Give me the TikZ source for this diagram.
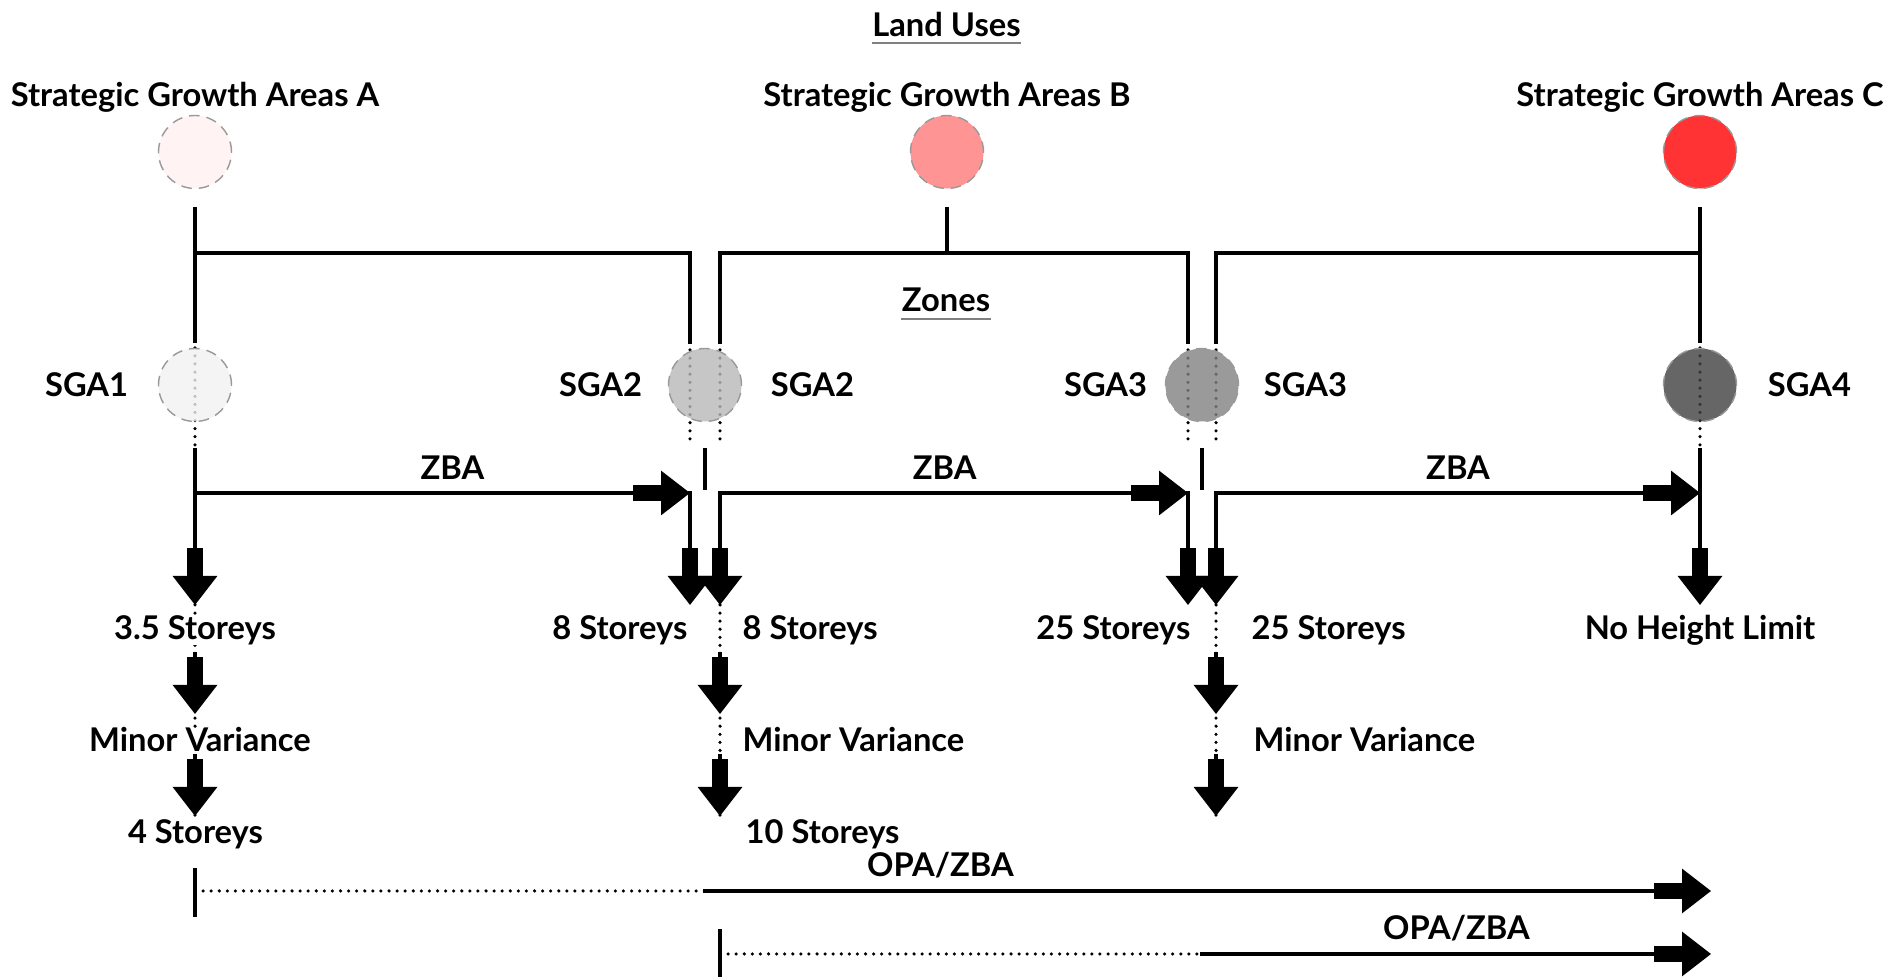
\documentclass[tikz,border=0pt]{standalone}
\usepackage{fontspec}
\setmainfont{Lato}
\usepackage{tikz}
\usetikzlibrary{arrows.meta,positioning,backgrounds}

\definecolor{areaA}{HTML}{FFF3F3}
\definecolor{areaB}{HTML}{FF9494}
\definecolor{areaC}{HTML}{FF3333}
\definecolor{zoneA}{HTML}{F1F1F1}
\definecolor{zoneB}{HTML}{B8B8B8}
\definecolor{zoneC}{HTML}{818181}
\definecolor{zoneD}{HTML}{404040}

\begin{document}
\begin{tikzpicture}[
  lbl/.style={font=\bfseries\fontsize{9.3}{11}\selectfont, inner sep=0pt},
  area/.style={circle, minimum size=7.3mm, inner sep=0pt, draw=gray!80, densely dashed, line width=0.4pt},
  zone/.style={area, fill opacity=0.8},
  ln/.style={line width=0.95pt, line cap=rect},
  dotln/.style={line width=1pt, line cap=round, dash pattern=on 0pt off 2.3pt},
  blk/.style={ln, -{Rectangle[length=2.8mm,width=1.6mm,sep=0pt]Triangle[length=2.9mm,width=4.4mm,sep=0pt]}},
  uline/.style={gray, line width=0.6pt}
]
\useasboundingbox (0,0) rectangle (18.9,-9.77);

% land uses
\node[lbl, anchor=base] (land) at (9.465,-0.37) {Land Uses};
\draw[uline] ([yshift=-0.5mm]land.south west) -- ([yshift=-0.5mm]land.south east);

\node[area, fill=areaA] (areaA) at (1.95,-1.52) {};
\node[area, fill=areaB] (areaB) at (9.47,-1.52) {};
\node[area, fill=areaC] (areaC) at (17.00,-1.52) {};
\node[lbl, above=0.2mm of areaA] (titleA) {Strategic Growth Areas A};
\node[lbl, above=0.2mm of areaB] (titleB) {Strategic Growth Areas B};
\node[lbl, above=0.2mm of areaC] (titleC) {Strategic Growth Areas C};

% zones
\node[lbl, anchor=base] (zones) at (9.46,-3.12) {Zones};
\draw[uline] ([yshift=-0.6mm]zones.south west) -- ([yshift=-0.6mm]zones.south east);

\node[zone, fill=zoneA] (sga1) at (1.95,-3.85) {};
\node[zone, fill=zoneB] (sga2) at (7.05,-3.85) {};
\node[zone, fill=zoneC] (sga3) at (12.02,-3.85) {};
\node[zone, fill=zoneD] (sga4) at (17.00,-3.85) {};
\node[lbl, left=2.9mm of sga1] (lab1) {SGA1};
\node[lbl, left=2.5mm of sga2] (lab2l) {SGA2};
\node[lbl, right=2.8mm of sga2] (lab2r) {SGA2};
\node[lbl, left=1.7mm of sga3] (lab3l) {SGA3};
\node[lbl, right=2.4mm of sga3] (lab3r) {SGA3};
\node[lbl, right=3.0mm of sga4] (lab4) {SGA4};

\coordinate (top2l) at (6.90,-3.42);
\coordinate (top2r) at (7.20,-3.42);
\coordinate (top3l) at (11.88,-3.42);
\coordinate (top3r) at (12.16,-3.42);
\coordinate (lvBranch) at (0,-2.53);
\coordinate (lvDot) at (0,-4.47);
\coordinate (lvSolid) at (0,-4.50);
\coordinate (lvMid) at (0,-4.88);
\coordinate (lvZba) at (0,-4.93);
\coordinate (lvTipA) at (0,-6.05);
\coordinate (lvTopB) at (0,-6.54);
\coordinate (lvTipB) at (0,-7.14);
\coordinate (lvTopC) at (0,-7.56);
\coordinate (lvTipC) at (0,-8.16);
\coordinate (endOne) at (17.11,-8.91);
\coordinate (endTwo) at (17.11,-9.54);

% land uses to zones
\draw[ln, shorten <=1.9mm, shorten >=0.6mm] (areaA) -- (sga1);
\draw[ln] (areaA |- lvBranch) -| (top2l);
\draw[ln, shorten <=1.9mm] (areaB) -- (areaB |- lvBranch);
\draw[ln] (top2r) |- (areaB |- lvBranch) -| (top3l);
\draw[ln, shorten <=1.9mm, shorten >=0.6mm] (areaC) -- (sga4);
\draw[ln] (top3r) |- (areaC |- lvBranch);

\begin{scope}[on background layer]
  \draw[dotln] (sga1.north) -- (sga1 |- lvDot);
  \draw[dotln] (sga4.north) -- (sga4 |- lvDot);
  \foreach \c in {top2l,top2r,top3l,top3r}
    \draw[dotln, shorten <=0.8mm] (\c) -- (\c |- lvDot);
  \foreach \c in {sga1,top2r,top3r}
    \draw[dotln] (\c |- lvTipA) -- (\c |- lvTipC);
\end{scope}

% zoning by-law amendments
\draw[ln] (sga2 |- lvSolid) -- (sga2 |- lvMid);
\draw[ln] (sga3 |- lvSolid) -- (sga3 |- lvMid);
\draw[blk] (sga1 |- lvSolid) -- (sga1 |- lvTipA);
\draw[blk] (sga1 |- lvZba) -- node[lbl, above=1.2mm, pos=0.52] (zba1) {ZBA} (top2l |- lvZba);
\draw[blk] (top2l |- lvZba) -- (top2l |- lvTipA);
\draw[blk] (top2r |- lvZba) -- (top2r |- lvTipA);
\draw[blk] (top2r |- lvZba) -- node[lbl, above=1.2mm, pos=0.48] (zba2) {ZBA} (top3l |- lvZba);
\draw[blk] (top3l |- lvZba) -- (top3l |- lvTipA);
\draw[blk] (top3r |- lvZba) -- (top3r |- lvTipA);
\draw[blk] (top3r |- lvZba) -- node[lbl, above=1.2mm] (zba3) {ZBA} (sga4 |- lvZba);
\draw[blk] (sga4 |- lvSolid) -- (sga4 |- lvTipA);

% heights
\node[lbl, fill=white, anchor=base] (htA) at (1.95,-6.40) {3.5 Storeys};
\node[lbl, anchor=base east] (htBl) at (6.88,-6.40) {8 Storeys};
\node[lbl, anchor=base west] (htBr) at (7.42,-6.40) {8 Storeys};
\node[lbl, anchor=base east] (htCl) at (11.91,-6.40) {25 Storeys};
\node[lbl, anchor=base west] (htCr) at (12.51,-6.40) {25 Storeys};
\node[lbl, anchor=base] (htD) at (17.00,-6.40) {No Height Limit};
\node[lbl, fill=white, anchor=base] (mvA) at (2.00,-7.52) {Minor Variance};
\node[lbl, anchor=base west] (mvB) at (7.42,-7.52) {Minor Variance};
\node[lbl, anchor=base west] (mvC) at (12.53,-7.52) {Minor Variance};
\node[lbl, fill=white, anchor=base] (finA) at (1.955,-8.44) {4 Storeys};
\node[lbl, anchor=base west] (finB) at (7.45,-8.44) {10 Storeys};

\foreach \c in {sga1,top2r,top3r} {
  \draw[blk] (\c |- lvTopB) -- (\c |- lvTipB);
  \draw[blk] (\c |- lvTopC) -- (\c |- lvTipC);
}

% official plan amendments
\draw[ln, line width=1.1pt] (sga1 |- endOne) ++(0,0.21) -- ++(0,-0.45);
\draw[dotln] (sga1 |- endOne) -- (sga2 |- endOne);
\draw[blk] (sga2 |- endOne) -- node[lbl, above=1.1mm, pos=0.234] (opa1) {OPA/ZBA} (endOne);
\draw[ln, line width=1.1pt] (top2r |- endTwo) ++(0,0.23) -- ++(0,-0.46);
\draw[dotln] (top2r |- endTwo) -- (sga3 |- endTwo);
\draw[blk] (sga3 |- endTwo) -- node[lbl, above=1.1mm] (opa2) {OPA/ZBA} (endTwo);

\end{tikzpicture}
\end{document}
